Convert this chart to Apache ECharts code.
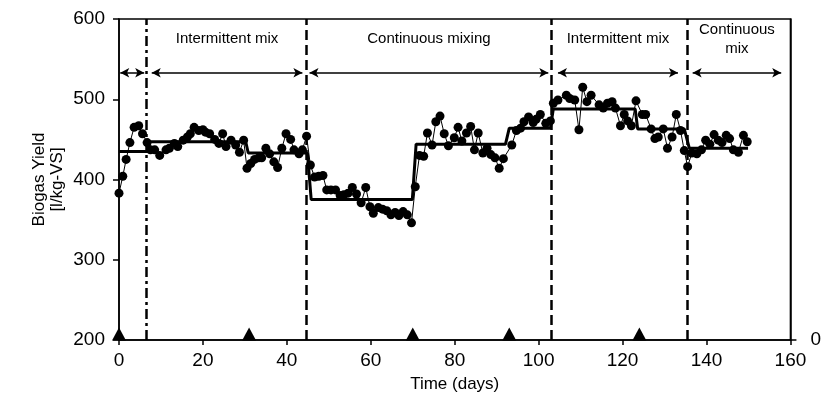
<!DOCTYPE html>
<html>
<head>
<meta charset="utf-8">
<script src="https://cdn.jsdelivr.net/npm/echarts@6/dist/echarts.min.js"></script>
<style>
html, body { margin: 0; padding: 0; background: #fff; }
#chart { width: 824px; height: 404px; }
</style>
</head>
<body>
<div id="chart"></div>
<script>
// biogas yield readings
const days = [
  0.0, 0.9, 1.7, 2.6, 3.6, 4.7, 5.6, 6.7, 7.5, 8.5, 9.7, 11.2, 12.0, 13.2, 14.0, 15.3, 16.3, 17.0, 17.9, 19.0,
  20.0, 20.6, 21.6, 22.8, 23.8, 24.7, 25.5, 26.7, 27.8, 28.7, 29.7, 30.5, 31.4, 32.3, 33.3, 34.0, 35.0, 35.9, 36.9, 37.8,
  38.8, 39.8, 40.9, 41.7, 42.9, 43.7, 44.7, 45.6, 46.6, 47.6, 48.6, 49.5, 50.5, 51.6, 52.7, 53.6, 54.6, 55.6, 56.6, 57.7,
  58.8, 59.8, 60.6, 61.8, 62.8, 63.8, 64.8, 65.8, 66.7, 67.7, 68.7, 69.7, 70.6, 71.6, 72.6, 73.5, 74.6, 75.5, 76.5, 77.5,
  78.5, 79.9, 80.8, 81.7, 82.8, 83.8, 84.7, 85.6, 86.7, 87.7, 88.6, 89.6, 90.6, 91.6, 93.6, 94.7, 95.7, 96.5, 97.6, 98.7,
  99.4, 100.4, 101.7, 102.8, 103.5, 104.6, 106.6, 107.4, 108.6, 109.6, 110.5, 111.5, 112.5, 114.4, 115.4, 116.4, 117.5, 118.3, 119.5, 120.4,
  121.2, 122.1, 123.2, 124.7, 125.5, 126.8, 127.7, 128.5, 129.7, 130.7, 131.8, 132.8, 133.8, 134.7, 135.5, 136.5, 137.7, 138.8, 139.8, 140.8,
  141.8, 142.8, 143.7, 144.7, 145.5, 146.4, 147.6, 148.8, 149.7
]
const yields = [
  383, 404, 425, 446, 465, 467, 457, 446, 437, 437, 430, 437, 439, 445, 441, 449, 453, 457, 465, 461,
  462, 459, 457, 450, 445, 457, 441, 449, 443, 434, 449, 414, 420, 425, 427, 427, 439, 432, 422, 415,
  439, 457, 450, 437, 432, 437, 454, 418, 403, 404, 405, 387, 387, 387, 380, 381, 383, 390, 382, 371,
  390, 366, 358, 365, 363, 361, 356, 359, 355, 360, 356, 346, 391, 430, 429, 458, 443, 472, 479, 457,
  442, 452, 465, 448, 458, 466, 437, 458, 433, 439, 431, 427, 414, 426, 443, 461, 464, 472, 478, 471,
  475, 481, 470, 473, 495, 499, 505, 501, 499, 462, 515, 497, 505, 493, 489, 495, 497, 489, 467, 481,
  473, 467, 498, 481, 481, 463, 451, 453, 463, 439, 453, 481, 461, 436, 416, 433, 432, 437, 449, 444,
  456, 449, 446, 455, 451, 437, 434, 455, 447
]
// period means (step line)
const meanDays = [0, 7.2, 7.2, 30.2, 30.8, 44.9, 45.8, 69.9, 70.8, 92.1, 93, 102.8, 103.5, 123, 123.6, 134.7, 135.9, 149.9]
const meanYields = [435, 435, 447, 447, 433, 433, 375, 375, 444, 444, 464, 464, 488, 488, 463, 463, 439, 439]
// mixing mode changes
const changeDays = [6.6, 44.6, 103.1, 135.3]
const changeDash = [[10, 4, 3, 4], [10, 5], [10, 5], [10, 5]]
// period arrows
const periodStart = [0.3, 7.8, 45.4, 104.6, 136.7]
const periodEnd = [6.0, 43.7, 102.3, 133.2, 157.8]
const periodNames = ['', 'Intermittent mix', 'Continuous mixing', 'Intermittent mix', 'Continuous\nmix']
const arrowLevel = 533
// triangles on the time axis
const markerDays = [0, 31, 70, 93, 124]

const font = 'Liberation Sans, Arial, sans-serif'
const chart = echarts.init(document.getElementById('chart'))

const points = days.map((d, i) => [d, yields[i]])
const meanLine = meanDays.map((d, i) => [d, meanYields[i]])

const arrows = periodStart.map((s, i) => [
  {
    coord: [s, arrowLevel],
    name: periodNames[i],
    label: { distance: periodNames[i].indexOf('\n') >= 0 ? 14 : 24 }
  },
  { coord: [periodEnd[i], arrowLevel] }
])

const changes = changeDays.map((d, i) => ({
  xAxis: d,
  lineStyle: { type: changeDash[i] }
}))

const option = {
  animation: false,
  backgroundColor: '#fff',
  textStyle: { fontFamily: font },
  grid: {
    left: 119, right: 31, top: 19, bottom: 64,
    show: true, borderColor: '#000', borderWidth: 1.5
  },
  xAxis: {
    type: 'value',
    min: 0, max: 160, interval: 20,
    name: 'Time (days)',
    nameLocation: 'middle',
    nameGap: 36,
    nameTextStyle: { color: '#000', fontSize: 17, fontFamily: font },
    axisLine: { lineStyle: { color: '#000', width: 1.5 } },
    axisTick: { length: 5, lineStyle: { color: '#000', width: 1.5 } },
    axisLabel: { color: '#000', fontSize: 19, margin: 11, fontFamily: font },
    splitLine: { show: false }
  },
  yAxis: [
    {
      type: 'value',
      min: 200, max: 600, interval: 100,
      name: 'Biogas Yield\n[l/kg-VS]',
      nameLocation: 'middle',
      nameRotate: 90,
      nameGap: 53,
      nameMoveOverlap: false,
      nameTextStyle: { color: '#000', fontSize: 17, lineHeight: 18, fontFamily: font },
      axisLine: { show: true, lineStyle: { color: '#000', width: 1.5 } },
      axisTick: { show: true, length: 6, lineStyle: { color: '#000', width: 1.5 } },
      axisLabel: { color: '#000', fontSize: 19, margin: 14, fontFamily: font },
      splitLine: { show: false }
    },
    {
      type: 'value',
      position: 'right',
      min: 0, max: 1,
      axisLine: { show: true, lineStyle: { color: '#000', width: 1.5 } },
      axisTick: { show: true, length: 6, customValues: [0], lineStyle: { color: '#000', width: 1.5 } },
      axisLabel: { color: '#000', fontSize: 19, margin: 20, customValues: [0], fontFamily: font },
      splitLine: { show: false }
    }
  ],
  series: [
    {
      name: 'Yield',
      type: 'line',
      data: points,
      symbol: 'circle',
      symbolSize: 9,
      itemStyle: { color: '#000' },
      lineStyle: { color: '#000', width: 1 },
      markLine: {
        silent: true,
        symbol: ['arrow', 'arrow'],
        symbolSize: [7, 9],
        lineStyle: { color: '#000', width: 1.5, type: 'solid' },
        label: {
          position: 'middle',
          formatter: '{b}',
          color: '#000',
          fontSize: 15,
          lineHeight: 19,
          fontFamily: font
        },
        data: arrows
      }
    },
    {
      name: 'Mean',
      type: 'line',
      data: meanLine,
      showSymbol: false,
      symbol: 'none',
      lineStyle: { color: '#000', width: 3 },
      markLine: {
        silent: true,
        symbol: 'none',
        label: { show: false },
        lineStyle: { color: '#000', width: 2.5 },
        data: changes
      }
    },
    {
      name: 'Markers',
      type: 'scatter',
      yAxisIndex: 1,
      data: markerDays.map(d => [d, 0]),
      symbol: 'triangle',
      symbolSize: [14, 13],
      symbolOffset: [0, -6],
      clip: false,
      itemStyle: { color: '#000', opacity: 1 },
      z: 5
    }
  ]
}

chart.setOption(option)
</script>
</body>
</html>
